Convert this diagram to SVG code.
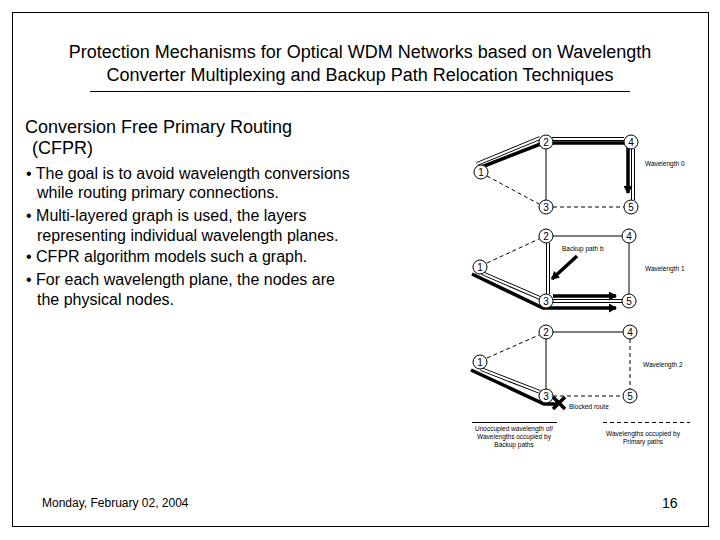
<svg xmlns="http://www.w3.org/2000/svg" width="720" height="540" viewBox="0 0 720 540">
<defs>
<marker id="ah" markerUnits="userSpaceOnUse" markerWidth="9" markerHeight="9" refX="7" refY="4.5" orient="auto">
<path d="M0,0 L8,4.5 L0,9 Z" fill="#000"/>
</marker>
<style>
text{font-family:"Liberation Sans",Arial,sans-serif;fill:#000}
.title{font-size:18px;text-anchor:middle}
.h{font-size:18px}
.b{font-size:16px}
.sm{font-size:6.5px}
.smc{font-size:6.5px;text-anchor:middle}
.nl{font-size:10px;text-anchor:middle}
.node circle{fill:#fff;stroke:#000;stroke-width:1}
.thin{stroke:#000;stroke-width:1;fill:none}
.dash{stroke:#000;stroke-width:1;fill:none;stroke-dasharray:4 3}
.holo{stroke:#000;stroke-width:4;fill:none}
.holi{stroke:#fff;stroke-width:2;fill:none}
.thick{stroke:#000;stroke-width:3.5;fill:none;stroke-linejoin:miter}
</style>
</defs>
<rect x="0" y="0" width="720" height="540" fill="#fff"/>
<rect x="12.5" y="12.5" width="696" height="514" fill="none" stroke="#000" stroke-width="1"/>
<text class="title" x="360" y="58">Protection Mechanisms for Optical WDM Networks based on Wavelength</text>
<text class="title" x="360" y="81">Converter Multiplexing and Backup Path Relocation Techniques</text>
<line x1="90" y1="91.5" x2="630" y2="91.5" stroke="#000" stroke-width="1"/>
<text class="h" x="25" y="133">Conversion Free Primary Routing</text>
<text class="h" x="32" y="154">(CFPR)</text>
<text class="b" x="26" y="179">• The goal is to avoid wavelength conversions</text>
<text class="b" x="37" y="198">while routing primary connections.</text>
<text class="b" x="26" y="221">• Multi-layered graph is used, the layers</text>
<text class="b" x="37" y="241">representing individual wavelength planes.</text>
<text class="b" x="26" y="262">• CFPR algorithm models such a graph.</text>
<text class="b" x="26" y="285">• For each wavelength plane, the nodes are</text>
<text class="b" x="37" y="305">the physical nodes.</text>
<text x="42" y="507" style="font-size:12px">Monday, February 02, 2004</text>
<text x="662" y="508" style="font-size:14px">16</text>
<g id="connectors">
<line class="thin" x1="546" y1="149" x2="546" y2="200"/>
<line class="dash" x1="487" y1="176" x2="539" y2="204"/>
<line class="dash" x1="553" y1="207" x2="624" y2="207"/>
<line class="dash" x1="487" y1="263" x2="539" y2="239"/>
<line class="thin" x1="553" y1="236" x2="622" y2="236"/>
<line class="thin" x1="629" y1="243" x2="629" y2="294"/>
<line class="dash" x1="487" y1="358" x2="539" y2="335"/>
<line class="thin" x1="553" y1="332" x2="623" y2="332"/>
<line class="thin" x1="546" y1="339" x2="546" y2="389"/>
<line class="dash" x1="630" y1="339" x2="630" y2="389"/>
<line class="dash" x1="553" y1="396" x2="623" y2="396"/>
<!-- wavelength 0 -->
<path class="holo" d="M477,164 L540,138 M552,139 L624,139 M633,149 L633,200"/>
<path class="holi" d="M477,164 L540,138 M552,139 L624,139 M633,149 L633,200"/>
<polyline class="thick" points="479,168 543,143 628,143 628,193" marker-end="url(#ah)"/>
<!-- wavelength 1 -->
<path class="holo" d="M548,243 L548,294 M482,273 L540,298 M553,301 L622,301"/>
<path class="holi" d="M548,243 L548,294 M482,273 L540,298 M553,301 L622,301"/>
<polyline class="thick" points="472,274 543,308 616,308" marker-end="url(#ah)"/>
<line class="thick" x1="553" y1="296" x2="616" y2="296" marker-end="url(#ah)"/>
<line class="thick" x1="577" y1="256" x2="552" y2="279" stroke-width="2.5" marker-end="url(#ah)"/>
<!-- wavelength 2 -->
<path class="holo" d="M481,369 L540,392"/>
<path class="holi" d="M481,369 L540,392"/>
<polyline class="thick" points="471,370 544,404 557,404"/>
<path d="M553,397 L565,409 M565,397 L553,409" stroke="#000" stroke-width="3.5" fill="none"/>
</g>
<g id="n0-1" class="node"><circle cx="481" cy="172" r="7"/><text class="nl" x="481" y="175.5">1</text></g>
<g id="n0-2" class="node"><circle cx="546" cy="142" r="7"/><text class="nl" x="546" y="145.5">2</text></g>
<g id="n0-3" class="node"><circle cx="546" cy="207" r="7"/><text class="nl" x="546" y="210.5">3</text></g>
<g id="n0-4" class="node"><circle cx="631" cy="142" r="7"/><text class="nl" x="631" y="145.5">4</text></g>
<g id="n0-5" class="node"><circle cx="631" cy="207" r="7"/><text class="nl" x="631" y="210.5">5</text></g>
<g id="n1-1" class="node"><circle cx="480" cy="267" r="7"/><text class="nl" x="480" y="270.5">1</text></g>
<g id="n1-2" class="node"><circle cx="546" cy="236" r="7"/><text class="nl" x="546" y="239.5">2</text></g>
<g id="n1-3" class="node"><circle cx="546" cy="301" r="7"/><text class="nl" x="546" y="304.5">3</text></g>
<g id="n1-4" class="node"><circle cx="629" cy="236" r="7"/><text class="nl" x="629" y="239.5">4</text></g>
<g id="n1-5" class="node"><circle cx="629" cy="301" r="7"/><text class="nl" x="629" y="304.5">5</text></g>
<g id="n2-1" class="node"><circle cx="480" cy="362" r="7"/><text class="nl" x="480" y="365.5">1</text></g>
<g id="n2-2" class="node"><circle cx="546" cy="332" r="7"/><text class="nl" x="546" y="335.5">2</text></g>
<g id="n2-3" class="node"><circle cx="546" cy="396" r="7"/><text class="nl" x="546" y="399.5">3</text></g>
<g id="n2-4" class="node"><circle cx="630" cy="332" r="7"/><text class="nl" x="630" y="335.5">4</text></g>
<g id="n2-5" class="node"><circle cx="630" cy="396" r="7"/><text class="nl" x="630" y="399.5">5</text></g>
<text class="sm" x="645" y="166">Wavelength 0</text>
<text class="sm" x="645" y="271">Wavelength 1</text>
<text class="sm" x="643" y="367">Wavelength 2</text>
<text class="sm" x="562" y="251">Backup path b</text>
<text class="sm" x="569" y="409">Blocked route</text>
<g id="legend">
<line x1="472" y1="422.5" x2="557" y2="422.5" stroke="#000" stroke-width="1"/>
<line x1="603" y1="422.5" x2="690" y2="422.5" stroke="#000" stroke-width="1" stroke-dasharray="4 3"/>
<text class="smc" x="514" y="431">Unoccupied wavelength of/</text>
<text class="smc" x="514" y="439">Wavelengths occupied by</text>
<text class="smc" x="514" y="447">Backup paths</text>
<text class="smc" x="643" y="436">Wavelengths occupied by</text>
<text class="smc" x="643" y="444">Primary paths</text>
</g>
</svg>
